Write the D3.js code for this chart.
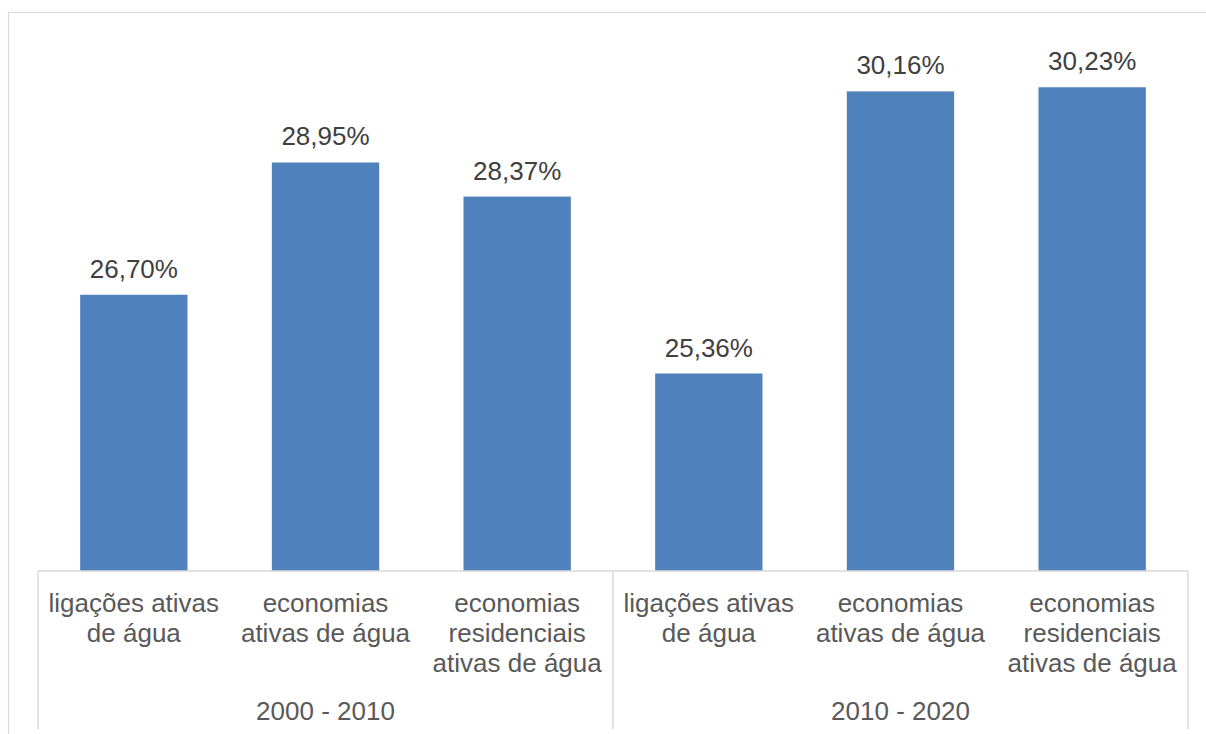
<!DOCTYPE html>
<html>
<head>
<meta charset="utf-8">
<script src="https://cdn.jsdelivr.net/npm/d3@7"></script>
<style>
  html, body { margin: 0; padding: 0; background: #fff; }
  svg { display: block; font-family: "Liberation Sans", Arial, sans-serif; }
</style>
</head>
<body>
<svg id="chart" width="1206" height="734"></svg>
<script>
// Periods and indicators
const groups = ["2000 - 2010", "2010 - 2020"];
const indicators = [
  ["ligações ativas", "de água"],
  ["economias", "ativas de água"],
  ["economias", "residenciais", "ativas de água"]
];
// Growth (%) per period, in the order of the indicators above
const values2000_2010 = [26.70, 28.95, 28.37];
const values2010_2020 = [25.36, 30.16, 30.23];
const yDomain = [22, 31];

const series = [values2000_2010, values2010_2020];
const rows = [];
groups.forEach((g, gi) => {
  indicators.forEach((lines, ii) => {
    rows.push({ key: g + "|" + ii, group: g, lines: lines, value: series[gi][ii] });
  });
});

const svg = d3.select("#chart");
const plot = { left: 38, right: 1188, top: 42, bottom: 571 };

// Chart frame
svg.append("rect")
  .attr("x", 8.5).attr("y", 12.5)
  .attr("width", 1220).attr("height", 760)
  .attr("fill", "none").attr("stroke", "#d9d9d9").attr("stroke-width", 1.2);

const x = d3.scaleBand()
  .domain(rows.map(d => d.key))
  .range([plot.left, plot.right])
  .paddingInner(0.44)
  .paddingOuter(0.22);

const xGroup = d3.scaleBand()
  .domain(groups)
  .range([plot.left, plot.right]);

const y = d3.scaleLinear().domain(yDomain).range([plot.bottom, plot.top]);

const fmt = v => d3.format(".2f")(v).replace(".", ",") + "%";

// Bars
svg.append("g").selectAll("rect")
  .data(rows)
  .join("rect")
  .attr("x", d => x(d.key))
  .attr("y", d => y(d.value))
  .attr("width", x.bandwidth())
  .attr("height", d => y(yDomain[0]) - y(d.value))
  .attr("fill", "#4f81bd");

// Value labels
svg.append("g").selectAll("text")
  .data(rows)
  .join("text")
  .attr("x", d => x(d.key) + x.bandwidth() / 2)
  .attr("y", d => y(d.value) - 17)
  .attr("text-anchor", "middle")
  .attr("font-size", 26)
  .attr("fill", "#404040")
  .text(d => fmt(d.value));

// Category axis line
const axisG = svg.append("g").attr("stroke", "#d9d9d9").attr("stroke-width", 1.5);
axisG.append("line")
  .attr("x1", plot.left).attr("x2", plot.right)
  .attr("y1", plot.bottom).attr("y2", plot.bottom);

// Group separators
const bounds = groups.map(g => xGroup(g)).concat([xGroup(groups[groups.length - 1]) + xGroup.bandwidth()]);
axisG.selectAll("line.sep")
  .data(bounds)
  .join("line")
  .attr("class", "sep")
  .attr("x1", d => d).attr("x2", d => d)
  .attr("y1", plot.bottom).attr("y2", 729);

// Indicator labels
const catLabels = svg.append("g").selectAll("text")
  .data(rows)
  .join("text")
  .attr("text-anchor", "middle")
  .attr("font-size", 26)
  .attr("fill", "#595959");
catLabels.selectAll("tspan")
  .data(d => d.lines.map(l => ({ l, cx: x(d.key) + x.bandwidth() / 2 })))
  .join("tspan")
  .attr("x", d => d.cx)
  .attr("y", (d, i) => 612 + i * 30)
  .text(d => d.l);

// Period labels
svg.append("g").selectAll("text")
  .data(groups)
  .join("text")
  .attr("x", g => xGroup(g) + xGroup.bandwidth() / 2)
  .attr("y", 720)
  .attr("text-anchor", "middle")
  .attr("font-size", 26)
  .attr("fill", "#595959")
  .text(g => g);
</script>
</body>
</html>
